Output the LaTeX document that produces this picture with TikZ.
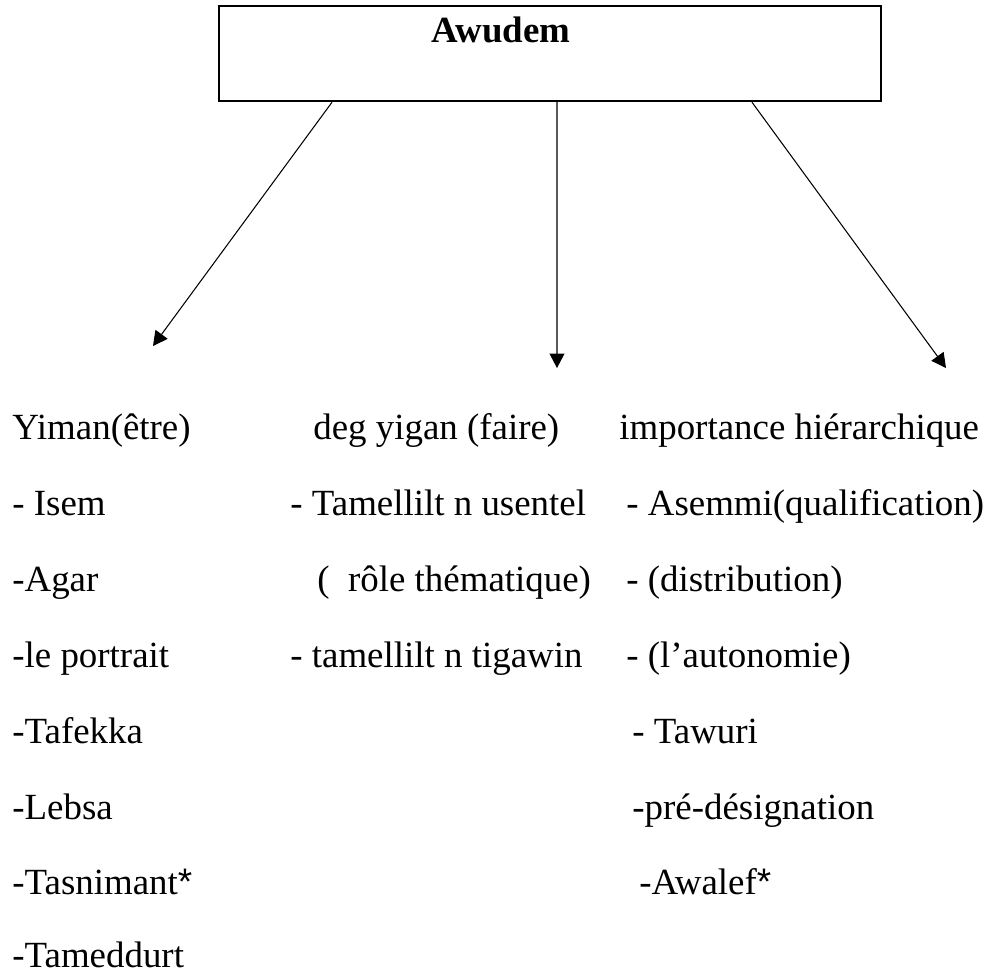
\documentclass[tikz,border=0pt]{standalone}
\usepackage{fontspec}
\setmainfont{Liberation Serif}
\setsansfont{Liberation Sans}
\usetikzlibrary{arrows.meta,calc}

\tikzset{
	txt/.style={anchor=base west, inner sep=0pt, font=\fontsize{21}{25}\selectfont},
	>={Triangle[length=0.29cm, width=0.3cm]}
}

\begin{document}
\begin{tikzpicture}
		\useasboundingbox (0,0) rectangle (19.74,-19.5);
		
		\node[draw, line width=1.4pt, minimum width=13.24cm, minimum height=1.9cm, inner sep=0pt] (box) at (11.0,-1.07) {};
		\node[anchor=base, inner sep=0pt, font=\fontsize{21}{25}\selectfont\bfseries] (titre) at (10.02,-0.84) {Awudem};
		
		\coordinate (A) at (3.06,-6.92);
		\coordinate (B) at (11.14,-7.36);
		\coordinate (C) at (18.92,-7.36);
		\draw[->][line width=0.6pt] ([xshift=-4.36cm]box.south) -- (A);
		\draw[->][line width=0.6pt] ([xshift=0.14cm]box.south) -- (B);
		\draw[->][line width=0.6pt] ([xshift=4.04cm]box.south) -- (C);
		
		% yiman
		\node[txt] (y0) at (0.24,-8.78) {Yiman(être)};
		\node[txt] (y1) at (0.24,-10.30) {- Isem};
		\node[txt] (y2) at (0.24,-11.82) {-Agar};
		\node[txt] (y3) at (0.24,-13.34) {-le portrait};
		\node[txt] (y4) at (0.24,-14.86) {-Tafekka};
		\node[txt] (y5) at (0.24,-16.38) {-Lebsa};
		\node[txt] (y6) at (0.24,-17.88) {-Tasnimant{\sffamily *}};
		\node[txt] (y7) at (0.24,-19.34) {-Tameddurt};
		
		% deg yigan
		\node[txt] (d0) at (6.26,-8.78) {deg yigan (faire)};
		\node[txt] (d1) at (5.80,-10.30) {- Tamellilt n usentel};
		\node[txt] (d2) at (6.34,-11.82) {(\ \ rôle thématique)};
		\node[txt] (d3) at (5.80,-13.34) {- tamellilt n tigawin};
		
		% importance
		\node[txt] (i0) at (12.38,-8.78) {importance hiérarchique};
		\node[txt] (i1) at (12.52,-10.30) {- Asemmi(qualification)};
		\node[txt] (i2) at (12.52,-11.82) {- (distribution)};
		\node[txt] (i3) at (12.52,-13.34) {- (l’autonomie)};
		\node[txt] (i4) at (12.64,-14.86) {- Tawuri};
		\node[txt] (i5) at (12.64,-16.38) {-pré-désignation};
		\node[txt] (i6) at (12.78,-17.88) {-Awalef{\sffamily *}};
	
	\end{tikzpicture}
\end{document}
